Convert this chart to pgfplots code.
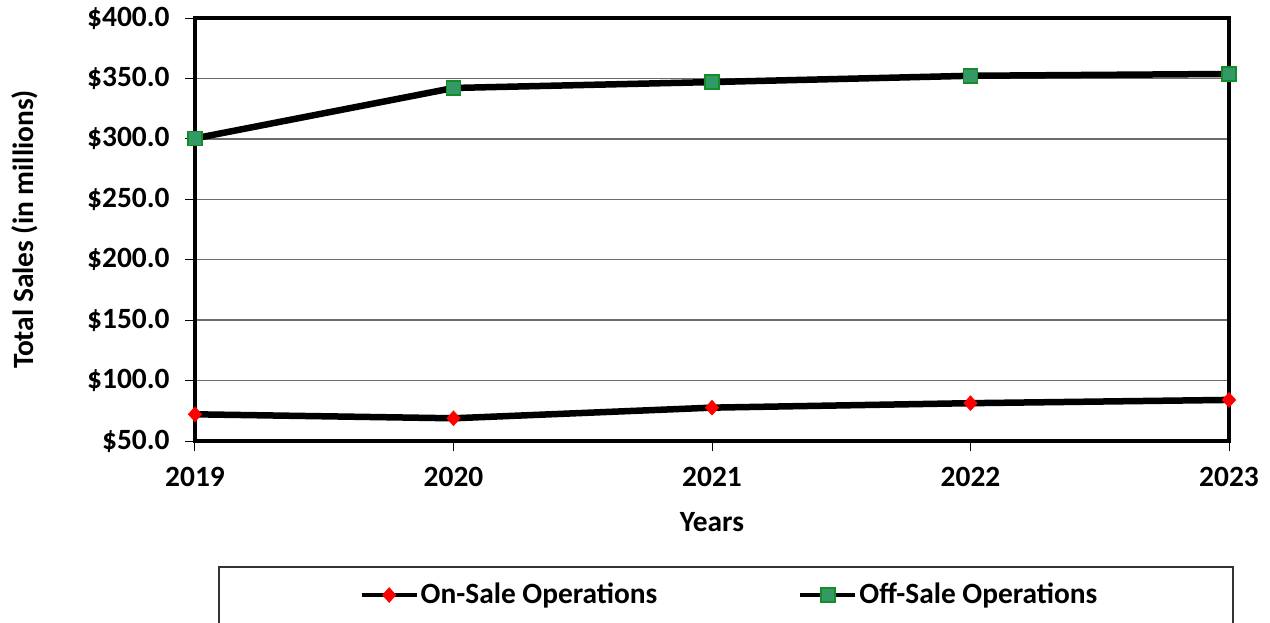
\documentclass[border=0pt]{standalone}
\usepackage{fontspec}
\setmainfont{Carlito}
\usepackage{pgfplots}
\pgfplotsset{compat=1.18}
\definecolor{offfill}{RGB}{51,153,102}
\definecolor{offdraw}{RGB}{20,140,40}
\newcommand{\chartfont}{\fontsize{14.7}{17}\selectfont\bfseries}
\begin{document}
\begin{tikzpicture}
\begin{axis}[
  name=ax,
  scale only axis, width=517pt, height=211.5pt,
  xmin=2019, xmax=2023, ymin=50, ymax=400,
  xtick={2019,2020,2021,2022,2023},
  xticklabels={2019,2020,2021,2022,2023},
  ytick={50,100,150,200,250,300,350,400},
  yticklabels={\$50.0,\$100.0,\$150.0,\$200.0,\$250.0,\$300.0,\$350.0,\$400.0},
  ymajorgrids, grid style={gray!85!black, line width=0.65pt},
  axis line style={line width=2pt},
  tick align=outside, tick pos=left, major tick length=5pt,
  tick style={black, line width=0.5pt},
  ticklabel style={font=\chartfont},
  xticklabel style={yshift=-4.7pt},
  yticklabel style={xshift=-4.2pt},
  label style={font=\chartfont},
  xlabel={Years}, ylabel={Total Sales (in millions)},
  xlabel style={at={(axis description cs:0.5,-0.1915)}, anchor=center},
  ylabel style={at={(axis description cs:-0.1644,0.5)}, anchor=center},
  clip mode=individual,
  legend columns=2,
  legend style={at={(axis description cs:0.517,-0.3641)}, anchor=center, draw=none, fill=none, font=\chartfont,
    nodes={inner xsep=1pt},
    /tikz/every even column/.append style={column sep=69.5pt}},
  legend image code/.code={\draw[mark repeat=2,mark phase=2,#1,line width=2pt] plot coordinates {(0pt,0pt) (13.75pt,0pt) (27.5pt,0pt)};},
]
\addplot[black, line width=3.25pt, mark=diamond*, mark size=3.7pt, mark options={solid, draw=red, fill=red, line width=0.3pt, xscale=1.2}]
  coordinates {(2019,72.1) (2020,68.8) (2021,77.6) (2022,81.3) (2023,84.0)};
\addlegendentry{On-Sale Operations}
\addplot[black, line width=3.25pt, mark=square*, mark size=3.5pt, mark options={solid, draw=offdraw, fill=offfill, line width=0.8pt}]
  coordinates {(2019,300.4) (2020,342.1) (2021,347.0) (2022,352.2) (2023,353.7)};
\addlegendentry{Off-Sale Operations}
\end{axis}
\draw[line width=0.75pt, black!80] ([shift={(12pt,-63pt)}]ax.south west) rectangle ([shift={(519pt,-93pt)}]ax.south west);
\pgfresetboundingbox
\path ([shift={(-97.5pt,-90.5pt)}]ax.south west) rectangle ([shift={(537.5pt,220.5pt)}]ax.south west);
\end{tikzpicture}
\end{document}
